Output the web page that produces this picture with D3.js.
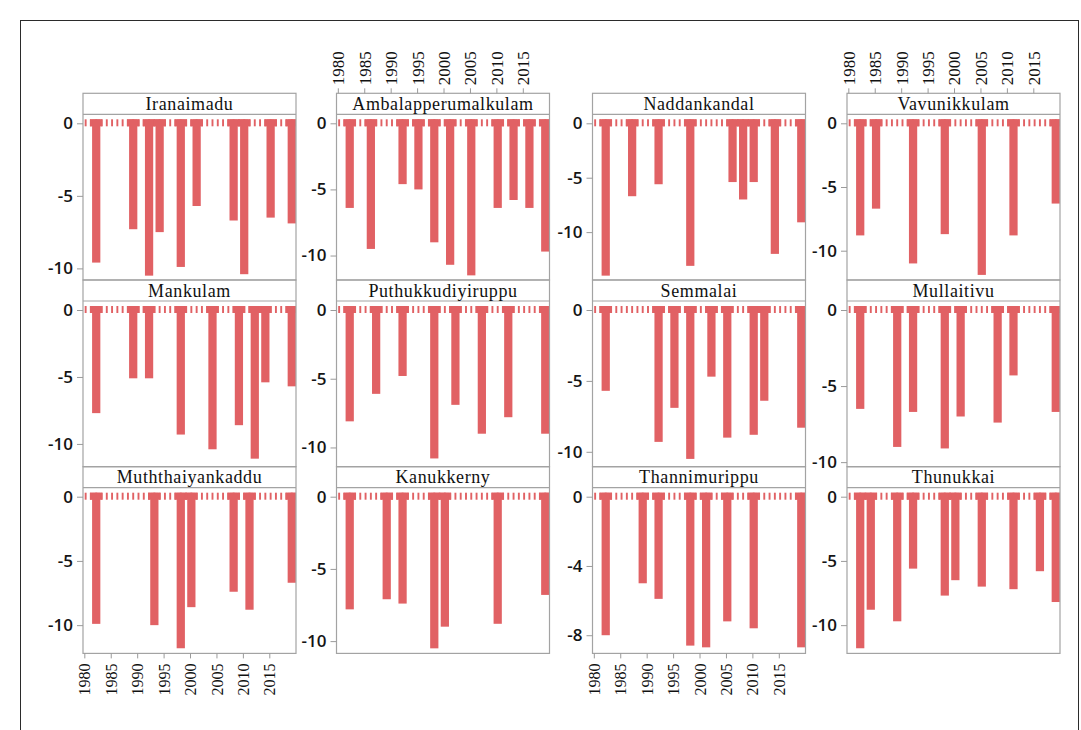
<!DOCTYPE html>
<html>
<head>
<meta charset="utf-8">
<script src="https://cdn.jsdelivr.net/npm/d3@7"></script>
<style>
  body { margin: 0; background: #fff; }
  svg { display: block; }
</style>
</head>
<body>
<svg id="chart" width="1081" height="730"></svg>
<script>
// Stations, in reading order (four per row)
const stations = [
  "Iranaimadu", "Ambalapperumalkulam", "Naddankandal", "Vavunikkulam",
  "Mankulam", "Puthukkudiyiruppu", "Semmalai", "Mullaitivu",
  "Muththaiyankaddu", "Kanukkerny", "Thannimurippu", "Thunukkai"
];

// Study period
const firstYear = 1980;
const lastYear = 2019;

// Drought years and drought severity for each station
const iranaimaduYears = [1982, 1989, 1992, 1994, 1998, 2001, 2008, 2010, 2015, 2019];
const iranaimaduSeverity = [-9.6, -7.3, -10.5, -7.5, -9.9, -5.7, -6.7, -10.4, -6.5, -6.9];

const ambalapperumalkulamYears = [1982, 1986, 1992, 1995, 1998, 2001, 2005, 2010, 2013, 2016, 2019];
const ambalapperumalkulamSeverity = [-6.4, -9.5, -4.6, -5.0, -9.0, -10.7, -11.5, -6.4, -5.8, -6.4, -9.7];

const naddankandalYears = [1982, 1987, 1992, 1998, 2006, 2008, 2010, 2014, 2019];
const naddankandalSeverity = [-14.0, -6.7, -5.6, -13.1, -5.4, -7.0, -5.4, -12.0, -9.1];

const vavunikkulamYears = [1982, 1985, 1992, 1998, 2005, 2011, 2019];
const vavunikkulamSeverity = [-8.8, -6.7, -11.0, -8.7, -11.9, -8.8, -6.3];

const mankulamYears = [1982, 1989, 1992, 1998, 2004, 2009, 2012, 2014, 2019];
const mankulamSeverity = [-7.7, -5.1, -5.1, -9.3, -10.4, -8.6, -11.1, -5.4, -5.7];

const puthukkudiyiruppuYears = [1982, 1987, 1992, 1998, 2002, 2007, 2012, 2019];
const puthukkudiyiruppuSeverity = [-8.1, -6.1, -4.8, -10.8, -6.9, -9.0, -7.8, -9.0];

const semmalaiYears = [1982, 1992, 1995, 1998, 2002, 2005, 2010, 2012, 2019];
const semmalaiSeverity = [-5.7, -9.3, -6.9, -10.5, -4.7, -9.0, -8.8, -6.4, -8.3];

const mullaitivuYears = [1982, 1989, 1992, 1998, 2001, 2008, 2011, 2019];
const mullaitivuSeverity = [-6.5, -9.0, -6.7, -9.1, -7.0, -7.4, -4.3, -6.7];

const muththaiyankadduYears = [1982, 1993, 1998, 2000, 2008, 2011, 2019];
const muththaiyankadduSeverity = [-9.9, -10.0, -11.8, -8.6, -7.4, -8.8, -6.7];

const kanukkernyYears = [1982, 1989, 1992, 1998, 2000, 2010, 2019];
const kanukkernySeverity = [-7.8, -7.1, -7.4, -10.5, -9.0, -8.8, -6.8];

const thannimurippuYears = [1982, 1989, 1992, 1998, 2001, 2005, 2010, 2019];
const thannimurippuSeverity = [-8.0, -5.0, -5.9, -8.6, -8.7, -7.2, -7.6, -8.7];

const thunukkaiYears = [1982, 1984, 1989, 1992, 1998, 2000, 2005, 2011, 2016, 2019];
const thunukkaiSeverity = [-11.8, -8.8, -9.7, -5.6, -7.7, -6.5, -7.0, -7.2, -5.8, -8.2];

// Axis settings
const xTickYears = [1980, 1985, 1990, 1995, 2000, 2005, 2010, 2015];
const yTickStep = [5, 5, 5, 5, 5, 5, 5, 5, 5, 5, 4, 5];
const yAxisMin = [-10.8, -11.85, -14.4, -12.3, -11.7, -11.4, -11.05, -10.3, -12.2, -10.85, -9.05, -12.2];

const stationYears = [
  iranaimaduYears, ambalapperumalkulamYears, naddankandalYears, vavunikkulamYears,
  mankulamYears, puthukkudiyiruppuYears, semmalaiYears, mullaitivuYears,
  muththaiyankadduYears, kanukkernyYears, thannimurippuYears, thunukkaiYears
];
const stationSeverity = [
  iranaimaduSeverity, ambalapperumalkulamSeverity, naddankandalSeverity, vavunikkulamSeverity,
  mankulamSeverity, puthukkudiyiruppuSeverity, semmalaiSeverity, mullaitivuSeverity,
  muththaiyankadduSeverity, kanukkernySeverity, thannimurippuSeverity, thunukkaiSeverity
];

// ---- layout ----
const svg = d3.select("#chart");
const W = 1081, H = 730;
const colLeft = [83, 336.5, 592.5, 847];
const panelW = 213;
const gridTop = 93.3;
const rowPitch = 186.7;
const stripH = 21;
const zeroInset = 9;      // gap between strip and the zero line
const barColor = "#e16164";
const frameColor = "#a3a3a3";
const serif = "'Liberation Serif', 'Times New Roman', serif";
const sans = "'Open Sans', 'Noto Sans', sans-serif";

svg.append("rect").attr("width", W).attr("height", H).attr("fill", "#fff");
// outer border of the figure
svg.append("rect")
  .attr("x", 20.5).attr("y", 20.5)
  .attr("width", 1058).attr("height", 740)
  .attr("fill", "none").attr("stroke", "#2b2b2b").attr("stroke-width", 1);

const allYears = d3.range(firstYear, lastYear + 1);
const defs = svg.append("defs");

stations.forEach((name, i) => {
  const col = i % 4, row = Math.floor(i / 4);
  const left = colLeft[col];
  const stripTop = gridTop + row * rowPitch;
  const plotTop = stripTop + stripH;
  const plotBottom = gridTop + (row + 1) * rowPitch;

  const x = d3.scaleLinear()
    .domain([firstYear - 0.25, lastYear + 1.05])
    .range([left, left + panelW]);
  const pxYear = x(firstYear + 1) - x(firstYear);
  const y = d3.scaleLinear()
    .domain([yAxisMin[i], 0])
    .range([plotBottom, plotTop + zeroInset]);

  const g = svg.append("g").attr("class", "panel");

  // clip to plot area
  const clipId = "clip" + i;
  defs.append("clipPath").attr("id", clipId)
    .append("rect").attr("x", left).attr("y", plotTop)
    .attr("width", panelW).attr("height", plotBottom - plotTop);

  const marks = g.append("g").attr("clip-path", `url(#${clipId})`);
  const centre = yr => x(yr + 0.25);
  const top0 = y(0) - 4;

  // yearly markers along the zero line
  marks.selectAll("rect.dash").data(allYears).join("rect")
    .attr("class", "dash")
    .attr("x", d => centre(d) - pxYear * 0.18)
    .attr("width", pxYear * 0.36)
    .attr("y", top0).attr("height", 7)
    .attr("fill", barColor);

  const events = stationYears[i].map((yr, k) => ({ year: yr, value: stationSeverity[i][k] }));

  // caps of drought bars
  marks.selectAll("rect.cap").data(events).join("rect")
    .attr("class", "cap")
    .attr("x", d => centre(d.year) - pxYear * 1.2)
    .attr("width", pxYear * 2.4)
    .attr("y", top0).attr("height", 7)
    .attr("fill", barColor);

  // drought severity bars
  marks.selectAll("rect.bar").data(events).join("rect")
    .attr("class", "bar")
    .attr("x", d => centre(d.year) - pxYear * 0.78)
    .attr("width", pxYear * 1.56)
    .attr("y", top0)
    .attr("height", d => y(d.value) - top0)
    .attr("fill", barColor);

  // frame and strip
  g.append("rect")
    .attr("x", left).attr("y", stripTop)
    .attr("width", panelW).attr("height", plotBottom - stripTop)
    .attr("fill", "none").attr("stroke", frameColor).attr("stroke-width", 1.2);
  g.append("line")
    .attr("x1", left).attr("x2", left + panelW)
    .attr("y1", plotTop).attr("y2", plotTop)
    .attr("stroke", frameColor).attr("stroke-width", 1.2);
  g.append("text")
    .attr("x", left + panelW / 2)
    .attr("y", stripTop + stripH / 2 + 6)
    .attr("text-anchor", "middle")
    .attr("font-family", serif)
    .attr("font-size", 18)
    .attr("letter-spacing", 0.6)
    .attr("fill", "#111")
    .text(name);

  // y axis
  const yTicks = d3.range(0, yAxisMin[i] - 1e-9, -yTickStep[i]);
  const yAxis = g.append("g")
    .attr("transform", `translate(${left},0)`)
    .call(d3.axisLeft(y).tickValues(yTicks).tickSize(6).tickPadding(4).tickFormat(d => String(d)));
  yAxis.select(".domain").remove();
  yAxis.selectAll(".tick line").attr("stroke", "#9a9a9a");
  yAxis.selectAll(".tick text")
    .attr("font-family", sans).attr("font-size", 17).attr("font-weight", 600).attr("fill", "#151515");

  // x axis: above the top row in columns 2 and 4, below the bottom row in columns 1 and 3
  if (row === 0 && (col === 1 || col === 3)) {
    const xAxis = g.append("g")
      .attr("transform", `translate(0,${stripTop})`)
      .call(d3.axisTop(x).tickValues(xTickYears).tickSize(5).tickFormat(d3.format("d")));
    xAxis.select(".domain").remove();
    xAxis.selectAll(".tick line").attr("stroke", "#9a9a9a");
    xAxis.selectAll(".tick text")
      .attr("font-family", serif).attr("font-size", 17).attr("fill", "#111")
      .attr("transform", "rotate(-90)")
      .attr("x", 8).attr("y", 0).attr("dy", "0.35em")
      .attr("text-anchor", "start");
  }
  if (row === 2 && (col === 0 || col === 2)) {
    const xAxis = g.append("g")
      .attr("transform", `translate(0,${plotBottom})`)
      .call(d3.axisBottom(x).tickValues(xTickYears).tickSize(5).tickFormat(d3.format("d")));
    xAxis.select(".domain").remove();
    xAxis.selectAll(".tick line").attr("stroke", "#9a9a9a");
    xAxis.selectAll(".tick text")
      .attr("font-family", serif).attr("font-size", 16).attr("fill", "#111")
      .attr("transform", "rotate(-90)")
      .attr("x", -10).attr("y", 0).attr("dy", "0.35em")
      .attr("text-anchor", "end");
  }
});
</script>
</body>
</html>
